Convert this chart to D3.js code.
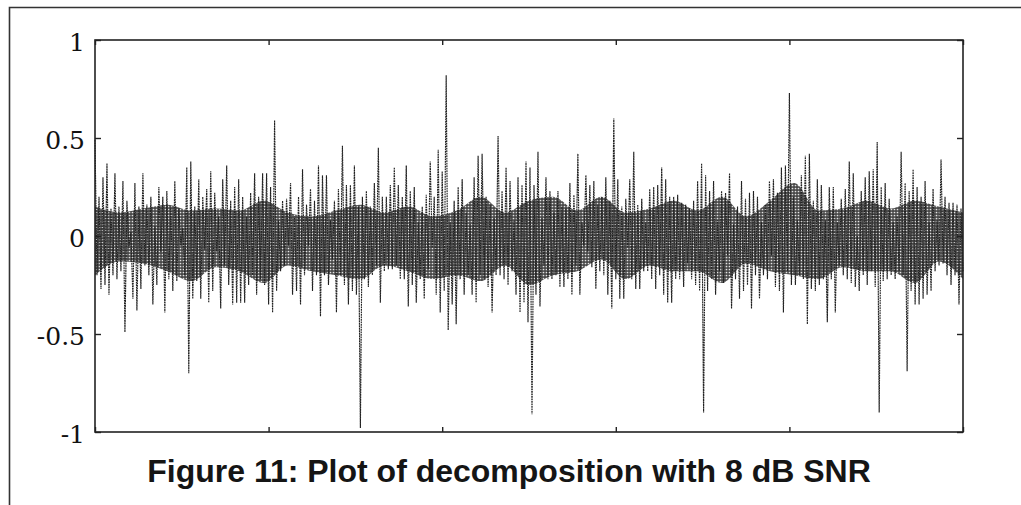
<!DOCTYPE html>
<html>
<head>
<meta charset="utf-8">
<script src="https://cdn.jsdelivr.net/npm/d3@7"></script>
<style>
  body { margin: 0; background: #fff; }
  svg { display: block; }
</style>
</head>
<body>
<svg id="chart"></svg>
<script>
// upper and lower extent of the signal, one pair every ~4px across the plot
var peaks = [
  0.49,0.2,0.3,0.37,0.14,0.32,0.15,0.28,0.18,0.02,0.27,0.15,0.32,0.16,0.2,0.05,0.25,0.2,0.23,0.15,0.28,0.14,0.04,0.35,0.38,0.15,0.29,0.2,0.24,0.33,0.22,0.1,0.29,0.36,0.18,0.25,0.29,
  0.2,0.1,0.22,0.32,0.2,0.32,0.32,0.25,0.59,0.08,0.18,0.19,0.27,0.1,0.2,0.34,0.16,0.24,0.18,0.36,0.31,0.31,0.08,0.18,0.24,0.46,0.26,0.26,0.36,0.15,0.2,0.23,0.15,0.27,0.45,0.2,
  0.2,0.26,0.35,0.26,0.2,0.36,0.23,0.25,0.07,0.15,0.21,0.38,0.2,0.44,0.33,0.82,0.07,0.18,0.25,0.29,0.12,0.06,0.3,0.41,0.42,0.2,0.16,0.09,0.51,0.23,0.35,0.28,0.08,0.3,0.26,0.38,
  0.35,0.26,0.43,0.09,0.3,0.23,0.12,0.23,0.15,0.14,0.27,0.21,0.42,0.07,0.31,0.26,0.28,0.16,0.2,0.3,0.18,0.6,0.29,0.15,0.19,0.29,0.43,0.16,0.19,0.07,0.24,0.25,0.26,0.35,0.29,0.2,
  0.2,0.21,0.17,0.16,0.14,0.18,0.28,0.37,0.31,0.23,0.28,0.08,0.23,0.22,0.32,0.06,0.15,0.28,0.19,0.22,0.23,0.2,0.07,0.16,0.28,0.29,0.22,0.35,0.36,0.73,0.2,0.08,0.31,0.41,0.42,0.18,
  0.29,0.26,0.08,0.25,0.25,0.07,0.19,0.24,0.38,0.32,0.0,0.23,0.3,0.33,0.34,0.48,0.25,0.27,0.19,0.07,0.1,0.43,0.27,0.23,0.34,0.25,0.2,0.28,0.07,0.24,0.08,0.39,0.2,0.17,0.17,0.16,0.14
];
var troughs = [
  -0.2,-0.27,-0.25,-0.3,-0.2,-0.22,-0.18,-0.49,-0.06,-0.32,-0.38,-0.27,-0.15,-0.2,-0.35,-0.25,-0.08,-0.39,-0.22,-0.28,-0.23,-0.05,-0.2,-0.7,-0.32,-0.23,-0.32,-0.07,-0.34,-0.28,-0.08,-0.37,-0.15,-0.25,-0.35,-0.34,-0.34,
  -0.34,-0.25,-0.2,-0.3,-0.22,-0.25,-0.35,-0.39,-0.28,-0.18,-0.15,-0.05,-0.3,-0.28,-0.35,-0.2,-0.05,-0.28,-0.2,-0.41,-0.2,-0.25,-0.12,-0.39,-0.2,-0.25,-0.35,-0.28,-0.3,-0.98,-0.22,-0.26,-0.2,-0.15,-0.34,-0.18,
  -0.17,-0.17,-0.15,-0.22,-0.22,-0.36,-0.25,-0.34,-0.22,-0.32,-0.17,-0.06,-0.3,-0.39,-0.28,-0.48,-0.35,-0.45,-0.22,-0.3,-0.2,-0.3,-0.34,-0.2,-0.22,-0.26,-0.39,-0.2,-0.2,-0.22,-0.25,-0.18,-0.3,-0.39,-0.34,-0.44,
  -0.91,-0.3,-0.36,-0.15,-0.22,-0.22,-0.2,-0.26,-0.26,-0.22,-0.3,-0.15,-0.3,-0.05,-0.08,-0.16,-0.27,-0.18,-0.2,-0.3,-0.37,-0.22,-0.32,-0.32,-0.06,-0.22,-0.27,-0.27,-0.18,-0.18,-0.22,-0.27,-0.2,-0.3,-0.34,-0.34,
  -0.22,-0.22,-0.26,-0.14,-0.22,-0.25,-0.28,-0.9,-0.28,-0.22,-0.3,-0.18,-0.24,-0.1,-0.37,-0.22,-0.32,-0.28,-0.25,-0.37,-0.2,-0.32,-0.2,-0.22,-0.1,-0.26,-0.28,-0.39,-0.18,-0.25,-0.25,-0.2,-0.22,-0.45,-0.27,-0.28,
  -0.25,-0.22,-0.44,-0.22,-0.39,-0.15,-0.2,-0.22,-0.24,-0.26,-0.28,-0.2,-0.25,-0.18,-0.26,-0.9,-0.23,-0.22,-0.2,-0.22,-0.18,-0.2,-0.69,-0.28,-0.35,-0.35,-0.32,-0.3,-0.28,-0.18,-0.15,-0.14,-0.2,-0.25,-0.2,-0.35,-0.18
];
// edges of the dense core of the trace, one value every ~24px
var bodyTop = [
  0.15,0.12,0.14,0.16,0.13,0.14,0.13,0.18,0.12,0.1,0.13,0.16,0.12,0.15,0.1,0.13,0.2,0.12,0.18,
  0.2,0.13,0.2,0.12,0.14,0.18,0.13,0.2,0.1,0.18,0.27,0.13,0.14,0.18,0.14,0.18,0.15,0.12
];
var bodyBottom = [
  -0.2,-0.13,-0.14,-0.18,-0.23,-0.16,-0.18,-0.24,-0.15,-0.18,-0.2,-0.22,-0.15,-0.18,-0.22,-0.2,-0.23,-0.15,-0.25,
  -0.2,-0.18,-0.12,-0.22,-0.15,-0.18,-0.18,-0.24,-0.14,-0.18,-0.2,-0.22,-0.16,-0.18,-0.18,-0.24,-0.13,-0.22
];
var yTicks = [-1, -0.5, 0, 0.5, 1];
var xDivisions = 5;
var title = "Figure 11: Plot of decomposition with 8 dB SNR";

var width = 1021, height = 505;
var margin = {top: 40, right: 58, bottom: 73, left: 95};
var w = width - margin.left - margin.right;
var h = height - margin.top - margin.bottom;

// interleave the two extents into one zig-zag trace
var signal = [];
peaks.forEach(function(p, i) {
    signal.push(p);
    signal.push(troughs[i]);
});
var n = signal.length;

var svg = d3.select("#chart")
    .attr("width", width)
    .attr("height", height);

// halftone texture like the printed original
var pat = svg.append("defs").append("pattern")
    .attr("id", "halftone")
    .attr("patternUnits", "userSpaceOnUse")
    .attr("width", 3)
    .attr("height", 3);
pat.append("rect").attr("width", 3).attr("height", 3).attr("fill", "#4a4a4a");
pat.append("circle").attr("cx", 1.5).attr("cy", 1.5).attr("r", 0.85).attr("fill", "#e4e4e4");

// outer figure frame (top and left edges only)
svg.append("path")
    .attr("d", "M9.5," + height + "V7.5H" + width)
    .attr("fill", "none")
    .attr("stroke", "#333")
    .attr("stroke-width", 1.6);

var g = svg.append("g")
    .attr("transform", "translate(" + margin.left + "," + margin.top + ")");

var x = d3.scaleLinear().domain([0, n - 1]).range([0, w]);
var xb = d3.scaleLinear().domain([0, bodyTop.length - 1]).range([0, w]);
var y = d3.scaleLinear().domain([-1, 1]).range([h, 0]);

var body = d3.area()
    .x(function(d, i) { return xb(i); })
    .y0(function(d, i) { return y(bodyBottom[i]); })
    .y1(function(d) { return y(d); })
    .curve(d3.curveMonotoneX);

g.append("path")
    .datum(bodyTop)
    .attr("d", body)
    .attr("fill", "url(#halftone)");

var line = d3.line()
    .x(function(d, i) { return x(i); })
    .y(function(d) { return y(d); });

g.append("path")
    .datum(signal)
    .attr("d", line)
    .attr("fill", "none")
    .attr("stroke", "#222")
    .attr("stroke-width", 1.15)
    .attr("stroke-dasharray", "1.8,0.7");

var xTickVals = d3.range(xDivisions + 1).map(function(i) { return i * (n - 1) / xDivisions; });

g.append("g")
    .attr("transform", "translate(0," + h + ")")
    .call(d3.axisBottom(x).tickValues(xTickVals).tickSize(-5).tickFormat(""));
g.append("g")
    .call(d3.axisTop(x).tickValues(xTickVals).tickSize(-5).tickFormat(""));
g.append("g")
    .attr("transform", "translate(" + w + ",0)")
    .call(d3.axisRight(y).tickValues(yTicks).tickSize(-6).tickFormat(""));
g.append("g")
    .attr("class", "yaxis")
    .call(d3.axisLeft(y).tickValues(yTicks).tickSize(-6).tickPadding(10)
        .tickFormat(function(d) { return String(d); }));

g.selectAll(".domain").remove();
g.selectAll(".tick line").attr("stroke", "#222").attr("stroke-width", 1.4);

g.selectAll(".yaxis text")
    .style("font-family", "'DejaVu Serif', serif")
    .attr("font-size", 25)
    .attr("fill", "#111")
    .attr("dy", "0.42em");

// plot frame
g.append("rect")
    .attr("width", w)
    .attr("height", h)
    .attr("fill", "none")
    .attr("stroke", "#222")
    .attr("stroke-width", 1.6);

svg.append("text")
    .attr("x", margin.left + w / 2 - 20)
    .attr("y", 482)
    .attr("text-anchor", "middle")
    .attr("font-family", "'Liberation Sans', Arial, sans-serif")
    .attr("font-weight", "bold")
    .attr("font-size", 32)
    .attr("fill", "#151515")
    .text(title);
</script>
</body>
</html>
